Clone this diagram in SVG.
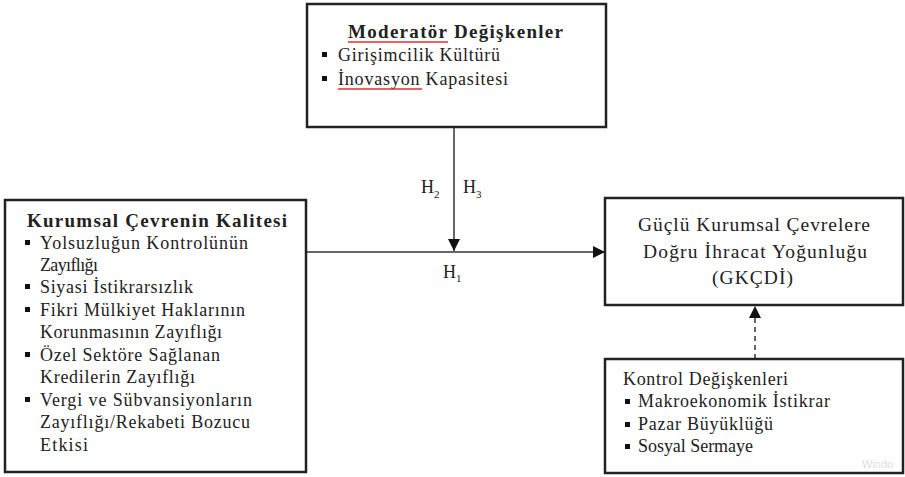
<svg xmlns="http://www.w3.org/2000/svg" width="905" height="477" viewBox="0 0 905 477">
<style>
.box{fill:#fff;stroke:#222;stroke-width:2.5}
.t{font-family:"Liberation Serif","DejaVu Serif","Times New Roman",serif;fill:#222;font-size:18px}
.b{font-weight:bold;font-size:19px}
.big{font-size:19.5px}
.c{text-anchor:middle}
.ln{stroke:#333;stroke-width:1.5;fill:none}
.red{stroke:#e03030;stroke-width:1.5}
.sub{font-size:11px}
</style>
<defs>
<marker id="ah2" viewBox="0 0 10 10" refX="10" refY="5" markerWidth="12" markerHeight="12" markerUnits="userSpaceOnUse" orient="auto"><path d="M0,0 L10,5 L0,10 z" fill="#111"/></marker>
</defs>

<g id="connectors">
<line class="ln" x1="454" y1="127" x2="454" y2="251" marker-end="url(#ah2)"/>
<line class="ln" x1="306" y1="252" x2="605" y2="252" marker-end="url(#ah2)"/>
<line class="ln" x1="755" y1="359" x2="755" y2="306" stroke-dasharray="5,4" marker-end="url(#ah2)"/>
<text class="t" x="421" y="193">H<tspan class="sub" dy="5">2</tspan></text>
<text class="t" x="463" y="193">H<tspan class="sub" dy="5">3</tspan></text>
<text class="t" x="443" y="278">H<tspan class="sub" dy="4">1</tspan></text>
</g>

<g id="moderator">
<rect class="box" x="307" y="4" width="299" height="123"/>
<text class="t b" x="348" y="38" textLength="215">Moderatör Değişkenler</text>
<line class="red" x1="348" y1="42" x2="448" y2="42"/>
<rect x="322" y="52" width="5" height="5" fill="#111"/>
<text class="t" x="338" y="61" textLength="162">Girişimcilik Kültürü</text>
<rect x="322" y="76" width="5" height="5" fill="#111"/>
<text class="t" x="338" y="85" textLength="170">İnovasyon Kapasitesi</text>
<line class="red" x1="338" y1="89" x2="422" y2="89"/>
</g>

<g id="kurumsal">
<rect class="box" x="5" y="200" width="301" height="272"/>
<text class="t b" x="27" y="227" textLength="260">Kurumsal Çevrenin Kalitesi</text>
<g fill="#111">
<rect x="25" y="240" width="5" height="5"/>
<rect x="25" y="284" width="5" height="5"/>
<rect x="25" y="307" width="5" height="5"/>
<rect x="25" y="352" width="5" height="5"/>
<rect x="25" y="397" width="5" height="5"/>
</g>
<text class="t" x="40" y="249" textLength="208">Yolsuzluğun Kontrolünün</text>
<text class="t" x="40" y="271" textLength="58">Zayıflığı</text>
<text class="t" x="40" y="293" textLength="153">Siyasi İstikrarsızlık</text>
<text class="t" x="40" y="316" textLength="205">Fikri Mülkiyet Haklarının</text>
<text class="t" x="40" y="338" textLength="182">Korunmasının Zayıflığı</text>
<text class="t" x="40" y="361" textLength="180">Özel Sektöre Sağlanan</text>
<text class="t" x="40" y="383" textLength="155">Kredilerin Zayıflığı</text>
<text class="t" x="40" y="406" textLength="212">Vergi ve Sübvansiyonların</text>
<text class="t" x="40" y="428" textLength="210">Zayıflığı/Rekabeti Bozucu</text>
<text class="t" x="40" y="451" textLength="48">Etkisi</text>
</g>

<g id="gkcdi">
<rect class="box" x="605" y="198" width="298" height="107"/>
<text class="t big" x="638" y="231" textLength="232">Güçlü Kurumsal Çevrelere</text>
<text class="t big" x="643" y="258" textLength="224">Doğru İhracat Yoğunluğu</text>
<text class="t big" x="712" y="284" textLength="81">(GKÇDİ)</text>
</g>

<g id="kontrol">
<rect class="box" x="605" y="359" width="298" height="114"/>
<text class="t" x="623" y="385" textLength="165">Kontrol Değişkenleri</text>
<g fill="#111">
<rect x="625" y="399" width="5" height="5"/>
<rect x="625" y="422" width="5" height="5"/>
<rect x="625" y="444" width="5" height="5"/>
</g>
<text class="t" x="638" y="407" textLength="192">Makroekonomik İstikrar</text>
<text class="t" x="638" y="430" textLength="135">Pazar Büyüklüğü</text>
<text class="t" x="638" y="452" textLength="115">Sosyal Sermaye</text>
<text x="862" y="468" font-family="Liberation Sans, sans-serif" font-size="11" fill="#ddd">Windo</text>
</g>
</svg>
